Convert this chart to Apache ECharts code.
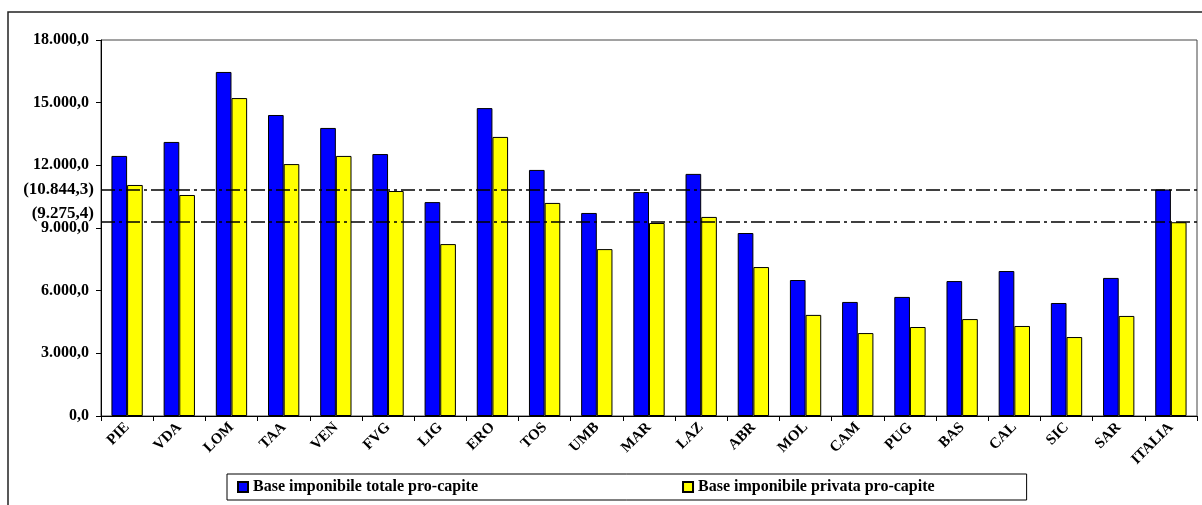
<!DOCTYPE html>
<html>
<head>
<meta charset="utf-8">
<script src="https://cdn.jsdelivr.net/npm/echarts@6/dist/echarts.min.js"></script>
<style>
html,body{margin:0;padding:0;background:#fff;}
#chart{width:1202px;height:505px;}
</style>
</head>
<body>
<div id="chart"></div>
<script>
const categories = ['PIE','VDA','LOM','TAA','VEN','FVG','LIG','ERO','TOS','UMB','MAR','LAZ','ABR','MOL','CAM','PUG','BAS','CAL','SIC','SAR','ITALIA'];
const totale = [12450,13120,16470,14410,13790,12540,10240,14740,11780,9720,10720,11590,8760,6510,5460,5700,6460,6940,5410,6610,10844.3];
const privata = [11060,10580,15220,12060,12450,10770,8230,13360,10200,7990,9240,9530,7130,4840,3970,4260,4640,4310,3780,4790,9275.4];
const seriesNames = ['Base imponibile totale pro-capite','Base imponibile privata pro-capite'];
const refValues = [10844.3, 9275.4];
const yTicks = {min: 0, max: 18000, interval: 3000};

function itFmt(v, dec) {
  const s = Math.abs(v).toFixed(dec);
  const parts = s.split('.');
  const intPart = parts[0].replace(/\B(?=(\d{3})+(?!\d))/g, '.');
  return (v < 0 ? '-' : '') + intPart + (dec ? ',' + parts[1] : '');
}

const font = {fontFamily: '"Liberation Serif", "Times New Roman", serif', fontWeight: 'bold', color: '#000'};
const dashDot = [14, 4, 3, 4];

const chart = echarts.init(document.getElementById('chart'), null, {renderer: 'canvas'});
chart.setOption({
  animation: false,
  backgroundColor: '#fff',
  graphic: [{
    type: 'rect', shape: {x: 8, y: 12, width: 1400, height: 700},
    style: {fill: 'none', stroke: '#222', lineWidth: 1.5}, z: 0
  }],
  grid: {left: 101, top: 40, right: 5, bottom: 89, show: true, borderColor: '#444', borderWidth: 1, backgroundColor: 'transparent'},
  legend: {
    left: 227, top: 474,
    padding: [5, 92, 5, 10],
    itemGap: 204,
    itemWidth: 10, itemHeight: 10,
    icon: 'rect',
    backgroundColor: '#fff', borderColor: '#000', borderWidth: 1,
    textStyle: Object.assign({fontSize: 16}, font),
    data: seriesNames
  },
  xAxis: {
    type: 'category', data: categories,
    axisLine: {lineStyle: {color: '#000', width: 1}},
    axisTick: {show: true, length: 5, lineStyle: {color: '#000'}},
    axisLabel: Object.assign({rotate: 45, fontSize: 15, margin: 9, interval: 0}, font),
    splitLine: {show: false}
  },
  yAxis: {
    type: 'value', min: yTicks.min, max: yTicks.max, interval: yTicks.interval,
    axisLine: {show: true, lineStyle: {color: '#000', width: 1}},
    axisTick: {show: true, length: 5, lineStyle: {color: '#000'}},
    axisLabel: Object.assign({fontSize: 16, margin: 12, formatter: v => itFmt(v, 1)}, font),
    splitLine: {show: false}
  },
  series: [
    {
      name: seriesNames[0], type: 'bar', data: totale,
      barWidth: '30%', barGap: '0%',
      itemStyle: {color: '#0000FF', borderColor: '#000', borderWidth: 1},
      markLine: {
        silent: true, symbol: 'none', z: 10,
        lineStyle: {color: '#000', width: 1.5, type: dashDot},
        label: Object.assign({position: 'start', distance: 7, fontSize: 17, lineHeight: 17}, font),
        data: [
          {yAxis: refValues[0], label: {formatter: p => '(' + itFmt(p.value, 1) + ')'}},
          {yAxis: refValues[1], label: {formatter: p => '(' + itFmt(p.value, 1) + ')\n '}}
        ]
      }
    },
    {
      name: seriesNames[1], type: 'bar', data: privata,
      barWidth: '30%', barGap: '0%',
      itemStyle: {color: '#FFFF00', borderColor: '#000', borderWidth: 1}
    }
  ]
});
</script>
</body>
</html>
